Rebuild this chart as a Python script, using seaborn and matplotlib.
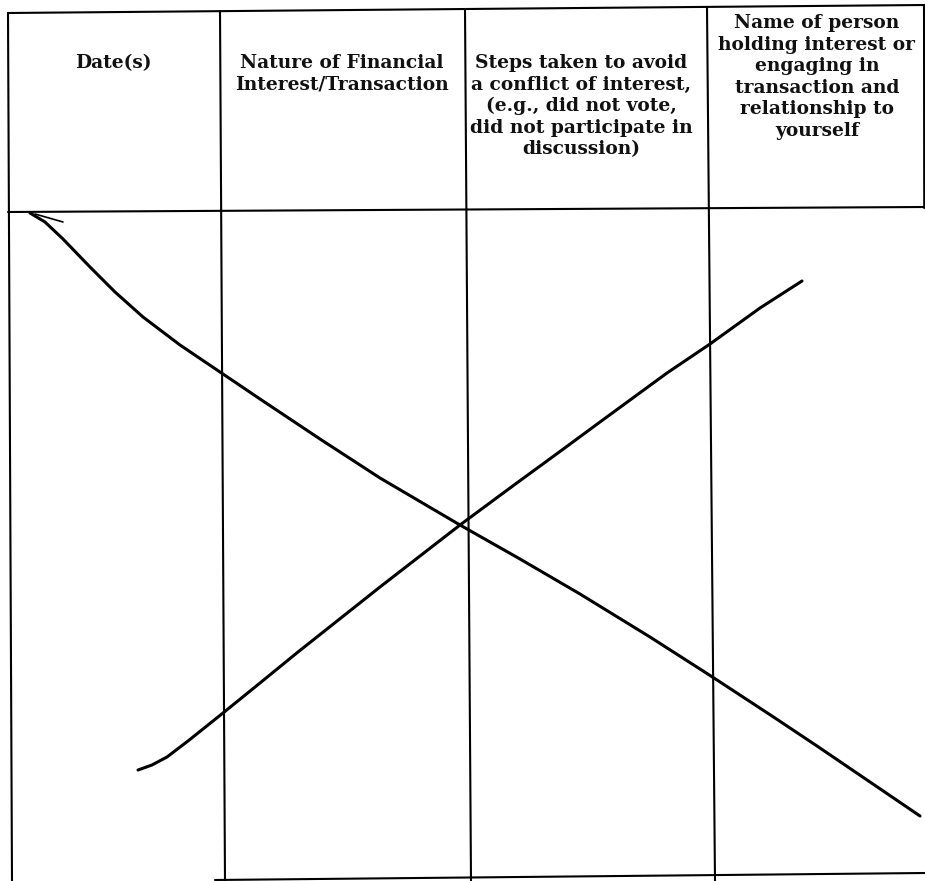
import numpy as np
import pandas as pd
import matplotlib
matplotlib.use("Agg")
import matplotlib.pyplot as plt
import seaborn as sns

# En-tetes des colonnes du formulaire
headers = [
    ["Date(s)"],
    ["Nature of Financial", "Interest/Transaction"],
    ["Steps taken to avoid", "a conflict of interest,", "(e.g., did not vote,",
     "did not participate in", "discussion)"],
    ["Name of person", "holding interest or", "engaging in",
     "transaction and", "relationship to", "yourself"],
]

desc_x = [30, 45, 63, 90, 115, 143, 180, 220, 263, 320, 380, 460, 520, 580, 650, 714, 775, 817, 870, 920]
desc_y = [213, 222, 239, 267, 292, 317, 345, 372, 401, 439, 478, 525, 559, 594, 637, 678, 718, 746, 782, 816]
asc_x = [138, 152, 167, 188, 223, 260, 298, 380, 460, 510, 562, 600, 667, 710, 760, 802]
asc_y = [770, 765, 757, 741, 713, 683, 652, 587, 525, 488, 450, 422, 373, 344, 308, 281]
tick_x = [35, 63]
tick_y = [214, 222]

# Cadre du tableau
vert_top_x = [8, 220, 465, 707, 924]
vert_bot_x = [12, 225, 471, 715, 925]
vert_bot_y = [881, 881, 881, 881, 208]
rows_left_y = [13, 212]
rows_right_y = [5, 207]

sns.set_theme(style="white")
plt.rcParams["font.family"] = ["DejaVu Serif"]

fig = plt.figure(figsize=(9.25, 8.81), dpi=100)
ax = fig.add_axes([0, 0, 1, 1])

lw_grid = 1.5
for xt, xb, yb in zip(vert_top_x, vert_bot_x, vert_bot_y):
    yt = 13 - 8 * xt / 925
    ax.plot([xt, xt + (xb - xt) * (yb - yt) / (881 - yt)], [yt, yb], color="black", lw=lw_grid)
for yl, yr in zip(rows_left_y, rows_right_y):
    ax.plot([8, 925], [yl, yr], color="black", lw=lw_grid)
# ligne du bas
ax.plot([215, 925], [880, 873], color="black", lw=lw_grid)

strokes = [
    pd.DataFrame({"x": desc_x, "y": desc_y}),
    pd.DataFrame({"x": asc_x, "y": asc_y}),
]
for df in strokes:
    sns.lineplot(data=df, x="x", y="y", sort=False, color="black", lw=2.2,
                 ax=ax, solid_capstyle="round", solid_joinstyle="round")
sns.lineplot(data=pd.DataFrame({"x": tick_x, "y": tick_y}), x="x", y="y",
             sort=False, color="black", lw=1.2, ax=ax)
ax.set_xlim(0, 925)
ax.set_ylim(881, 0)
ax.axis("off")

centers = [113, 342, 581, 817]
first_y = [63, 63, 63, 23]
step = 21.6
for lines, cx, y0 in zip(headers, centers, first_y):
    for i, line in enumerate(lines):
        ax.text(cx, y0 + i * step, line, ha="center", va="center", fontsize=13.4,
                fontweight="bold", color="#111111")

fig.savefig("out.png", dpi=100, facecolor="white")
